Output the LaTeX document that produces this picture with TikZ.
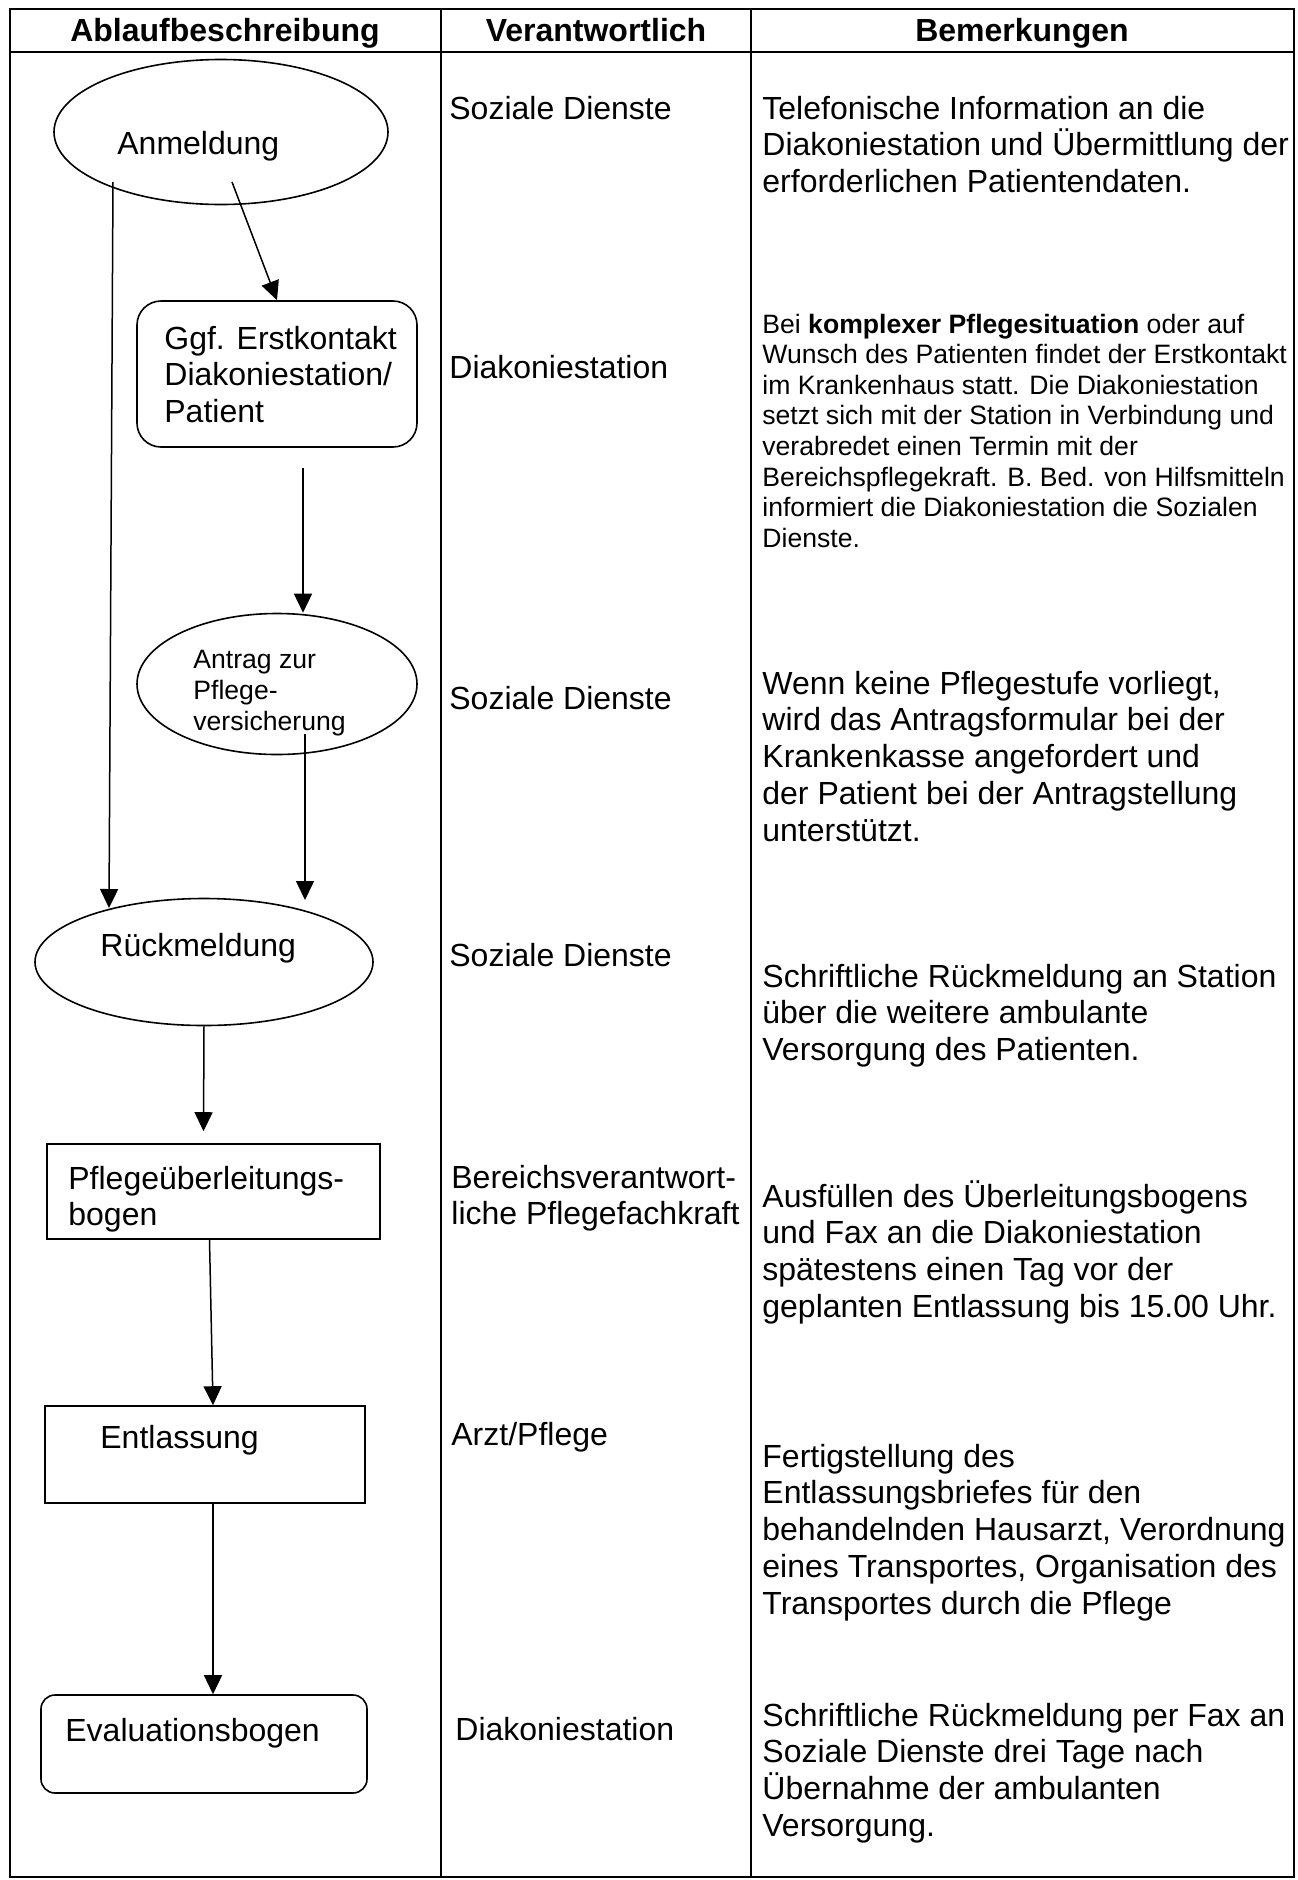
\documentclass[tikz,border=0pt]{standalone}
\usepackage{fontspec}
\setmainfont{Liberation Sans}
\usetikzlibrary{shapes.geometric,arrows.meta}

\tikzset{
  txt/.style={anchor=base west, inner sep=0pt, align=left, font=\fontsize{16}{18.4}\selectfont},
  klein/.style={txt, font=\fontsize{13.3}{15.3}\selectfont},
  kopf/.style={anchor=base, inner sep=0pt, font=\bfseries\fontsize{16}{18.4}\selectfont},
  oval/.style={draw, ellipse, line width=0.8pt, inner sep=0pt},
  kasten/.style={draw, rectangle, line width=0.8pt, inner sep=0pt},
  runde/.style={kasten, rounded corners=#1},
  pfeil/.style={-{Triangle[length=9.5pt,width=9pt]}, line width=0.75pt},
  linie/.style={line width=0.9pt}
}

\begin{document}
\begin{tikzpicture}[x=0.5pt, y=-0.5pt]
    \useasboundingbox (0,0) rectangle (1297,1880);

    % Tabelle
    \draw[linie] (10,9) rectangle (1294,1877);
    \draw[linie] (10,52) -- (1294,52);
    \draw[linie] (441,9) -- (441,1877);
    \draw[linie] (751,9) -- (751,1877);

    \node[kopf] (k1) at (225,41) {Ablaufbeschreibung};
    \node[kopf] (k2) at (596,41) {Verantwortlich};
    \node[kopf] (k3) at (1022,41) {Bemerkungen};

    % Ablauf (Grundlinie der letzten Zeile)
    \node[oval, minimum width=167pt, minimum height=72.5pt] (anm) at (221,132) {};
    \node[txt] (anm-t) at (117,154) {Anmeldung};

    \node[runde=12pt, minimum width=140pt, minimum height=73pt] (erst) at (277,374) {};
    \node[txt] (erst-t) at (164,422.6) {Ggf. Erstkontakt\\Diakoniestation/\\Patient};

    \node[oval, minimum width=140pt, minimum height=70.5pt] (antr) at (277,684) {};
    \node[klein, font=\fontsize{13.3}{15.5}\selectfont] (antr-t) at (193,730) {Antrag zur\\Pflege-\\versicherung};

    \node[oval, minimum width=169pt, minimum height=63.5pt] (rueck) at (204,962) {};
    \node[txt] (rueck-t) at (100,956) {Rückmeldung};

    \node[kasten, minimum width=166.5pt, minimum height=47.5pt] (pueb) at (213.5,1191.5) {};
    \node[txt] (pueb-t) at (68,1225.8) {Pflegeüberleitungs-\\bogen};

    \node[kasten, minimum width=160pt, minimum height=48.5pt] (entl) at (205,1454.5) {};
    \node[txt] (entl-t) at (100,1448) {Entlassung};

    \node[runde=7pt, minimum width=163pt, minimum height=49pt] (eval) at (204,1744) {};
    \node[txt] (eval-t) at (65,1741) {Evaluationsbogen};

    \draw[pfeil] ([shift={(11,50)}]anm.center) -- (erst.north);
    \draw[pfeil] ([shift={(-108,50)}]anm.center) -- ([shift={(-95,-54)}]rueck.center);
    \draw[pfeil] ([shift={(26,20)}]erst.south) -- ([shift={(26,0)}]antr.north);
    \draw[pfeil] ([shift={(28,50)}]antr.center) -- ([shift={(101,-62)}]rueck.center);
    \draw[pfeil] (rueck.south) -- ([shift={(-10,-12)}]pueb.north);
    \draw[pfeil] ([xshift=-2pt]pueb.south) -- ([xshift=4pt]entl.north);
    \draw[pfeil] ([xshift=4pt]entl.south) -- ([xshift=4.5pt]eval.north);

    % Verantwortlich
    \node[txt] (v1) at (449,119) {Soziale Dienste};
    \node[txt] (v2) at (449,378) {Diakoniestation};
    \node[txt] (v3) at (449,709) {Soziale Dienste};
    \node[txt] (v4) at (449,966) {Soziale Dienste};
    \node[txt] (v5) at (451,1224.8) {Bereichsverantwort-\\liche Pflegefachkraft};
    \node[txt] (v6) at (451,1445) {Arzt/Pflege};
    \node[txt] (v7) at (455,1740) {Diakoniestation};

    % Bemerkungen
    \node[txt] (b1) at (762,192.6) {Telefonische Information an die\\Diakoniestation und Übermittlung der\\erforderlichen Patientendaten.};
    \node[klein] (b2) at (762,547.2) {Bei \textbf{komplexer Pflegesituation} oder auf\\Wunsch des Patienten findet der Erstkontakt\\im Krankenhaus statt. Die Diakoniestation\\setzt sich mit der Station in Verbindung und\\verabredet einen Termin mit der\\Bereichspflegekraft. B. Bed. von Hilfsmitteln\\informiert die Diakoniestation die Sozialen\\Dienste.};
    \node[txt] (b3) at (762,841.2) {Wenn keine Pflegestufe vorliegt,\\wird das Antragsformular bei der\\Krankenkasse angefordert und\\der Patient bei der Antragstellung\\unterstützt.};
    \node[txt] (b4) at (762,1060.6) {Schriftliche Rückmeldung an Station\\über die weitere ambulante\\Versorgung des Patienten.};
    \node[txt] (b5) at (762,1317.4) {Ausfüllen des Überleitungsbogens\\und Fax an die Diakoniestation\\spätestens einen Tag vor der\\geplanten Entlassung bis 15.00 Uhr.};
    \node[txt] (b6) at (762,1614.2) {Fertigstellung des\\Entlassungsbriefes für den\\behandelnden Hausarzt, Verordnung\\eines Transportes, Organisation des\\Transportes durch die Pflege};
    \node[txt] (b7) at (762,1836.4) {Schriftliche Rückmeldung per Fax an\\Soziale Dienste drei Tage nach\\Übernahme der ambulanten\\Versorgung.};
\end{tikzpicture}
\end{document}
